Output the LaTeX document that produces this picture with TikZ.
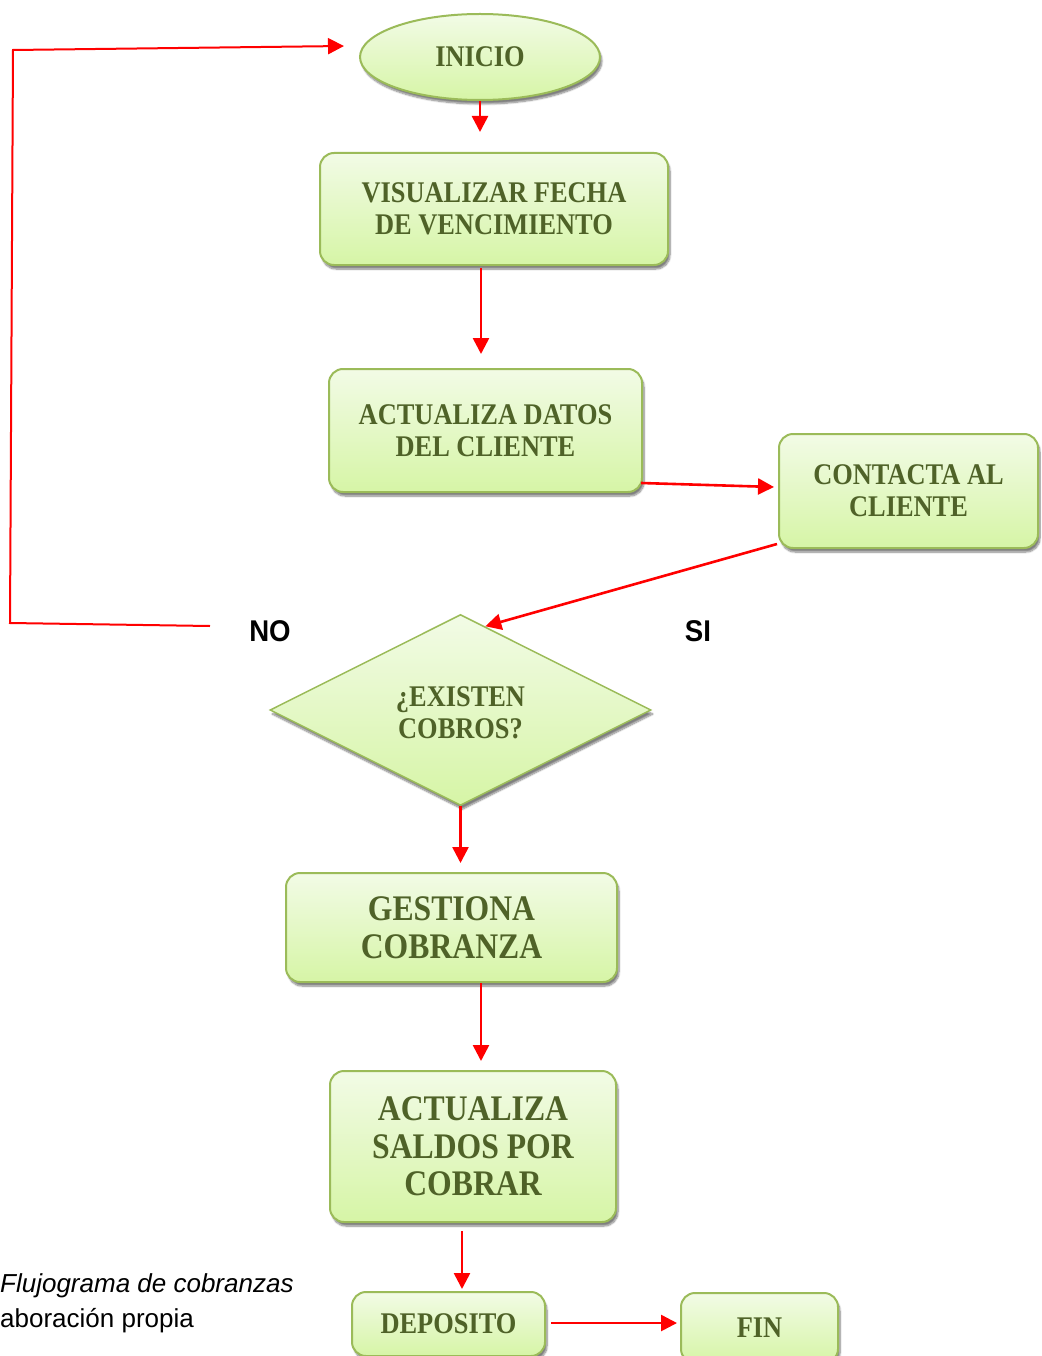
\documentclass[tikz,border=0pt]{standalone}
\usepackage{fontspec}
\newfontfamily\boxfont[FakeStretch=0.88]{Liberation Serif}
\newfontfamily\capfont{Liberation Sans}
\newfontfamily\lblfont[FakeStretch=0.92]{Liberation Sans}
\usetikzlibrary{shapes.geometric,shadows.blur,arrows.meta,calc}
\definecolor{txtgreen}{RGB}{79,98,40}
\definecolor{bordergreen}{RGB}{155,187,89}
\definecolor{filltop}{RGB}{242,251,230}
\definecolor{fillbot}{RGB}{214,245,166}
\definecolor{arrred}{RGB}{255,0,0}
\tikzset{
 shapebase/.style={draw=bordergreen, line width=2pt, top color=filltop, bottom color=fillbot,
   inner sep=0pt, align=center, text=txtgreen,
   font=\boxfont\bfseries\fontsize{30}{32}\selectfont,
   blur shadow={shadow xshift=2pt, shadow yshift=-4pt, shadow opacity=50, shadow blur steps=8}},
 box/.style={shapebase, rounded corners=14pt},
 bigbox/.style={box, font=\boxfont\bfseries\fontsize{36}{37.5}\selectfont},
 decision/.style={shapebase, diamond, line width=1.5pt},
 startend/.style={shapebase, ellipse},
 arr/.style={draw=arrred, line width=2.6pt, -{Triangle[length=16pt,width=16pt]}},
 lbl/.style={font=\lblfont\bfseries\fontsize{30}{32}\selectfont, inner sep=0pt},
 captext/.style={font=\capfont\fontsize{26}{30}\selectfont, inner sep=0pt, anchor=base west},
}
\begin{document}
\begin{tikzpicture}[x=1pt,y=-1pt]
\useasboundingbox (0,0) rectangle (1041,1356);
\clip (0,0) rectangle (1041,1356);

\node[startend, minimum width=240pt, minimum height=86pt] (inicio) at (480,57) {INICIO};
\node[box, minimum width=348pt, minimum height=112pt] (visual) at (494,209) {VISUALIZAR FECHA\\DE VENCIMIENTO};
\node[box, minimum width=313pt, minimum height=123pt] (datos) at (485.5,430.5) {ACTUALIZA DATOS\\DEL CLIENTE};
\node[box, minimum width=259pt, minimum height=114pt] (contacta) at (908.5,491) {CONTACTA AL\\CLIENTE};
\node[decision, minimum width=381pt, minimum height=191pt] (dia) at (460.5,710) {};
\node[text=txtgreen, align=center, inner sep=0pt, font=\boxfont\bfseries\fontsize{30}{32}\selectfont] (diatext) at (460.5,712.5) {¿EXISTEN\\COBROS?};
\node[bigbox, minimum width=331pt, minimum height=109pt] (gestiona) at (451.5,927.5) {GESTIONA\\COBRANZA};
\node[bigbox, minimum width=286pt, minimum height=151pt] (saldos) at (473,1146.5) {ACTUALIZA\\SALDOS POR\\COBRAR};
\node[box, minimum width=193pt, minimum height=64pt] (deposito) at (448.5,1324) {DEPOSITO};
\node[box, minimum width=157pt, minimum height=70pt] (fin) at (759.5,1328) {FIN};

\node[lbl] (no) at (270,631) {NO};
\node[lbl] (si) at (698,631) {SI};

\node[captext] (cap1) at (0,1292) {\itshape Flujograma de cobranzas};
\node[captext] (cap2) at (0,1327) {aboración propia};

\coordinate (noend) at (210,626);

\draw[arr, shorten >=20pt] (inicio.south) -- (inicio.south |- visual.north);
\draw[arr, shorten <=2pt, shorten >=14pt] ([xshift=-13pt]visual.south) -- ([xshift=-4.5pt]datos.north);
\draw[arr] ([xshift=-2pt,yshift=10pt]datos.south east) -- ([xshift=-4pt,yshift=4pt]contacta.west);
\draw[arr] ([xshift=-1pt,yshift=5pt]contacta.south west) -- ($(dia.north)!0.13!(dia.east)$);
\draw[arr, shorten >=9pt] (dia.south) -- (dia.south |- gestiona.north);
\draw[arr, shorten >=9pt] ([xshift=29.5pt]gestiona.south) -- ([xshift=8pt]saldos.north);
\draw[arr, shorten <=8pt, shorten >=2pt] ([xshift=-11pt]saldos.south) -- ([xshift=13.5pt]deposito.north);
\draw[arr, shorten <=5pt, shorten >=3pt] (deposito.east |- 0,1323) -- (fin.west |- 0,1323);
\draw[draw=arrred, line width=2pt, -{Triangle[length=16pt,width=16pt]}] (noend) -- (10,623) -- (13,50) -- ([xshift=-15pt,yshift=11pt]inicio.west);
\end{tikzpicture}
\end{document}
